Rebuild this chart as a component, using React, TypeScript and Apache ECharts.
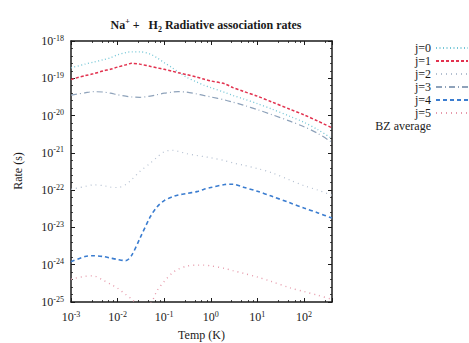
import React, { useEffect, useRef } from "react";
import * as echarts from "echarts";

// Temperatures (K) shared by all curves
const temps = [
  1e-3, 2e-3, 3e-3, 5e-3, 7e-3, 0.01, 0.015, 0.02, 0.03, 0.05, 0.07, 0.1, 0.15,
  0.2, 0.3, 0.5, 0.7, 1, 2, 3, 5, 10, 20, 50, 100, 200, 400,
];

// log10 of rate
const logJ0 = [
  -18.72, -18.62, -18.57, -18.5, -18.45, -18.37, -18.31, -18.29, -18.29, -18.35,
  -18.45, -18.58, -18.72, -18.83, -18.97, -19.1, -19.18, -19.25, -19.38, -19.46,
  -19.55, -19.68, -19.82, -20.02, -20.18, -20.38, -20.62,
];
const logJ1 = [
  -19.03, -18.93, -18.88, -18.8, -18.76, -18.7, -18.64, -18.6, -18.62, -18.68,
  -18.72, -18.76, -18.81, -18.85, -18.9, -18.97, -19.02, -19.07, -19.15, -19.25,
  -19.35, -19.48, -19.63, -19.83, -19.98, -20.15, -20.33,
];
const logJ2 = [
  -21.98, -21.9, -21.86, -21.88, -21.92, -21.93, -21.85, -21.72, -21.5, -21.28,
  -21.12, -20.97, -20.93, -20.96, -21.02, -21.07, -21.1, -21.13, -21.21, -21.27,
  -21.33, -21.42, -21.53, -21.73, -21.88, -22.0, -22.14,
];
const logJ3 = [
  -19.45, -19.39, -19.36, -19.37, -19.4, -19.44, -19.48, -19.5, -19.51, -19.48,
  -19.44, -19.4, -19.37, -19.36, -19.37, -19.42, -19.46, -19.5, -19.58, -19.64,
  -19.72, -19.84, -19.97, -20.15, -20.3, -20.48, -20.72,
];
const logJ4 = [
  -23.92, -23.78, -23.76, -23.78, -23.82, -23.86, -23.89, -23.75, -23.3, -22.72,
  -22.45, -22.28, -22.18, -22.13, -22.09, -22.04, -21.98, -21.93, -21.85, -21.84,
  -21.92, -22.03, -22.16, -22.34, -22.48, -22.61, -22.75,
];
const logJ5 = [
  -24.39, -24.31, -24.3, -24.42, -24.52, -24.63, -24.8, -24.92, -25.1, -25.05,
  -24.7, -24.45, -24.22, -24.12, -24.04, -24.01, -24.01, -24.03, -24.1, -24.16,
  -24.23, -24.33, -24.45, -24.62, -24.72, -24.82, -24.93,
];

const seriesNames = ["j=0", "j=1", "j=2", "j=3", "j=4", "j=5", "BZ average"];

const FONT = "'Liberation Serif', 'DejaVu Serif', serif";
const INK = "#1a1a1a";

// y axis is drawn in log10 space (decades), x axis is a log axis
const toPairs = (logs: number[]) => logs.map((l, i) => [temps[i], l]);

const xPowLabel = (v: number) => {
  const lg = Math.log10(v);
  const e = Math.round(lg);
  if (Math.abs(lg - e) > 1e-6) return "";
  return `{b|10}{s|${e}}`;
};
const yPowLabel = (v: number) => `{b|10}{s|${Math.round(v)}}`;

const labelRich = {
  b: { fontFamily: FONT, fontSize: 12, color: INK, lineHeight: 14 },
  s: { fontFamily: FONT, fontSize: 8, color: INK, lineHeight: 8, verticalAlign: "top" as const },
};

export default function App() {
  const ref = useRef<HTMLDivElement>(null);
  useEffect(() => {
    if (!ref.current) return;
    const chart = echarts.init(ref.current, undefined, { renderer: "svg" });
    const mkLine = (name: string, data: any[], color: string, type: any, width: number, extra: any = {}) => ({
      name,
      type: "line",
      data,
      smooth: 0.3,
      symbol: "none",
      showSymbol: false,
      lineStyle: { color, type, width, ...extra },
      itemStyle: { color },
      z: 3,
    });
    const frameAxis = {
      axisLine: { show: true, lineStyle: { color: INK, width: 1.5 } },
      axisTick: { show: true, inside: true, length: 4, lineStyle: { color: INK, width: 1 } },
      minorTick: { show: true, splitNumber: 5, length: 2, lineStyle: { color: INK, width: 0.8 } },
      splitLine: { show: false },
      minorSplitLine: { show: false },
    };
    chart.setOption({
      animation: false,
      backgroundColor: "#ffffff",
      title: {
        text: "{a|Na}{sup|+}{a| +   H}{sub|2}{a| Radiative association rates}",
        left: 201,
        top: 12,
        textAlign: "center",
        textStyle: {
          rich: {
            a: { fontFamily: FONT, fontSize: 12, color: INK, lineHeight: 16 },
            sup: { fontFamily: FONT, fontSize: 8, color: INK, lineHeight: 9, verticalAlign: "top" },
            sub: { fontFamily: FONT, fontSize: 8, color: INK, lineHeight: 9, verticalAlign: "bottom" },
          },
        },
      },
      legend: {
        data: seriesNames,
        orient: "vertical",
        align: "right",
        right: 0,
        top: 42,
        padding: 0,
        itemGap: 1,
        itemWidth: 32,
        itemHeight: 10,
        itemStyle: { opacity: 0 },
        textStyle: { fontFamily: FONT, fontSize: 12, color: INK, lineHeight: 12 },
      },
      grid: { left: 71, right: 137, top: 41, bottom: 41, containLabel: false, outerBoundsMode: "none" },
      graphic: [
        {
          type: "text",
          x: 18,
          y: 171,
          rotation: Math.PI / 2,
          style: {
            text: "Rate (s)",
            fontFamily: FONT,
            fontSize: 12,
            fill: INK,
            align: "center",
            verticalAlign: "middle",
          },
        },
      ],
      xAxis: [
        {
          type: "log",
          logBase: 10,
          min: 1e-3,
          max: 400,
          position: "bottom",
          name: "Temp (K)",
          nameLocation: "middle",
          nameGap: 27,
          nameTextStyle: { fontFamily: FONT, fontSize: 12, color: INK },
          axisLabel: { formatter: xPowLabel, rich: labelRich, margin: 8, showMinLabel: true },
          ...frameAxis,
        },
        {
          type: "log",
          logBase: 10,
          min: 1e-3,
          max: 400,
          position: "top",
          axisLabel: { show: false },
          ...frameAxis,
        },
      ],
      yAxis: [
        {
          type: "value",
          min: -25,
          max: -18,
          interval: 1,
          position: "left",
          axisLabel: {
            formatter: yPowLabel,
            rich: labelRich,
            margin: 7,
            showMinLabel: true,
            showMaxLabel: true,
            hideOverlap: false,
          },
          ...frameAxis,
        },
        {
          type: "value",
          min: -25,
          max: -18,
          interval: 1,
          position: "right",
          axisLabel: { show: false },
          ...frameAxis,
        },
      ],
      series: [
        mkLine("j=0", toPairs(logJ0), "#74c6d6", [1, 2.5], 1.3),
        mkLine("j=1", toPairs(logJ1), "#e2324f", [3, 2], 1.5),
        mkLine("j=2", toPairs(logJ2), "#b3bfd0", [1, 4], 1.2),
        mkLine("j=3", toPairs(logJ3), "#8ea2ba", [6, 3, 1, 3], 1.2),
        mkLine("j=4", toPairs(logJ4), "#3b7dd0", [4, 3], 1.6),
        mkLine("j=5", toPairs(logJ5), "#e69aab", [1, 4], 1.4),
        mkLine("BZ average", [], "#ffffff", "solid", 1, { opacity: 0 }),
      ],
    });
    return () => chart.dispose();
  }, []);
  return <div ref={ref} style={{ width: 469, height: 343, position: "absolute", left: 0, top: 0 }} />;
}
